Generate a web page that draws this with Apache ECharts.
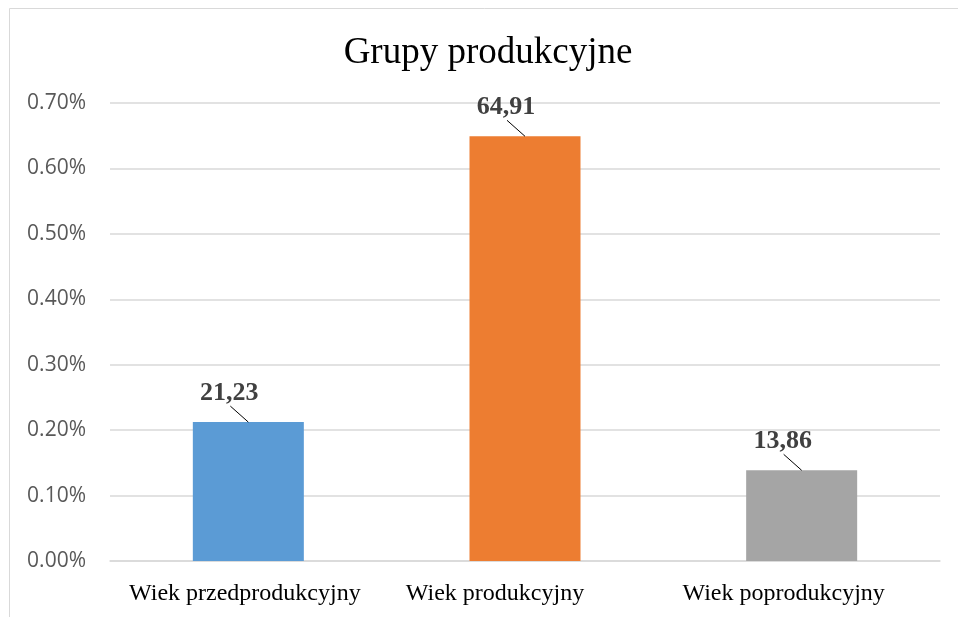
<!DOCTYPE html>
<html>
<head>
<meta charset="utf-8">
<script src="https://cdn.jsdelivr.net/npm/echarts@6/dist/echarts.min.js"></script>
<style>html,body{margin:0;padding:0;background:#fff;}#c{width:958px;height:617px;}</style>
</head>
<body>
<div id="c"></div>
<script>
const titleText = 'Grupy produkcyjne';
const categories = ['Wiek przedprodukcyjny', 'Wiek produkcyjny', 'Wiek poprodukcyjny'];
const values = [0.2123, 0.6491, 0.1386];
const labelTexts = ['21,23', '64,91', '13,86'];
const barColors = ['#5b9bd5', '#ed7d31', '#a5a5a5'];
const yTicks = { min: 0, max: 0.7, interval: 0.1 };

// visual left shift of each category label in the reference (style only)
const catLabelPadRight = [7, 60, 36];

const chart = echarts.init(document.getElementById('c'));
chart.setOption({
  animation: false,
  backgroundColor: '#fff',
  graphic: [{
    type: 'rect', silent: true,
    shape: { x: 9.5, y: 8.5, width: 1000, height: 700 },
    style: { fill: 'none', stroke: '#d9d9d9', lineWidth: 1 }
  }],
  title: {
    text: titleText, left: 483, textAlign: 'center', top: 30,
    textStyle: { fontFamily: 'Liberation Serif', fontSize: 37, fontWeight: 'normal', color: '#000' }
  },
  grid: { left: 110, right: 18, top: 103, bottom: 56, containLabel: false },
  xAxis: {
    type: 'category',
    data: categories.map((c, i) => ({ value: c, textStyle: { padding: [0, catLabelPadRight[i], 0, 0] } })),
    axisLine: { show: true, lineStyle: { color: '#d9d9d9', width: 1.5 } },
    axisTick: { show: false },
    axisLabel: { interval: 0, margin: 21, fontFamily: 'Liberation Serif', fontSize: 24, color: '#000' }
  },
  yAxis: {
    type: 'value', min: yTicks.min, max: yTicks.max, interval: yTicks.interval,
    axisLine: { show: false }, axisTick: { show: false },
    splitLine: { lineStyle: { color: '#d9d9d9', width: 1.5 } },
    axisLabel: { margin: 24, fontFamily: 'Open Sans', fontSize: 21, color: '#595959',
      formatter: v => v.toFixed(2) + '%' }
  },
  series: [{
    type: 'bar', barWidth: 111,
    data: values.map((v, i) => ({ value: v, itemStyle: { color: barColors[i] } })),
    label: {
      show: true, position: 'top', distance: 4,
      fontFamily: 'Liberation Serif', fontWeight: 'bold', fontSize: 26, color: '#404040',
      formatter: p => labelTexts[p.dataIndex]
    },
    labelLayout: { dx: -19, dy: -12 }
  }, {
    type: 'custom', silent: true, z: 5,
    data: values.map((v, i) => [i, v]),
    renderItem: (params, api) => {
      const p = api.coord([api.value(0), api.value(1)]);
      return {
        type: 'line',
        shape: { x1: p[0] - 18, y1: p[1] - 16, x2: p[0], y2: p[1] },
        style: { stroke: '#000', lineWidth: 1 }
      };
    }
  }]
});
</script>
</body>
</html>
